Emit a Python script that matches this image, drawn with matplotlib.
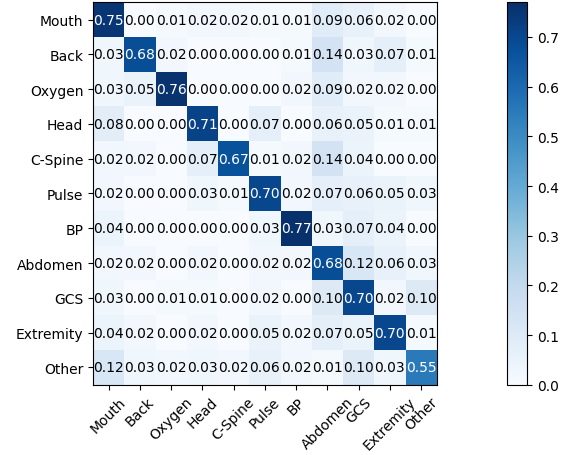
import numpy as np
import matplotlib
matplotlib.use("Agg")
import matplotlib.pyplot as plt

CLASSES = ["Mouth", "Back", "Oxygen", "Head", "C-Spine", "Pulse", "BP",
           "Abdomen", "GCS", "Extremity", "Other"]

# normalized confusion matrix, rows = true class, cols = predicted class
ROW_MOUTH = [0.75, 0.00, 0.01, 0.02, 0.02, 0.01, 0.01, 0.09, 0.06, 0.02, 0.00]
ROW_BACK = [0.03, 0.68, 0.02, 0.00, 0.00, 0.00, 0.01, 0.14, 0.03, 0.07, 0.01]
ROW_OXYGEN = [0.03, 0.05, 0.76, 0.00, 0.00, 0.00, 0.02, 0.09, 0.02, 0.02, 0.00]
ROW_HEAD = [0.08, 0.00, 0.00, 0.71, 0.00, 0.07, 0.00, 0.06, 0.05, 0.01, 0.01]
ROW_CSPINE = [0.02, 0.02, 0.00, 0.07, 0.67, 0.01, 0.02, 0.14, 0.04, 0.00, 0.00]
ROW_PULSE = [0.02, 0.00, 0.00, 0.03, 0.01, 0.70, 0.02, 0.07, 0.06, 0.05, 0.03]
ROW_BP = [0.04, 0.00, 0.00, 0.00, 0.00, 0.03, 0.77, 0.03, 0.07, 0.04, 0.00]
ROW_ABDOMEN = [0.02, 0.02, 0.00, 0.02, 0.00, 0.02, 0.02, 0.68, 0.12, 0.06, 0.03]
ROW_GCS = [0.03, 0.00, 0.01, 0.01, 0.00, 0.02, 0.00, 0.10, 0.70, 0.02, 0.10]
ROW_EXTREMITY = [0.04, 0.02, 0.00, 0.02, 0.00, 0.05, 0.02, 0.07, 0.05, 0.70, 0.01]
ROW_OTHER = [0.12, 0.03, 0.02, 0.03, 0.02, 0.06, 0.02, 0.01, 0.10, 0.03, 0.55]

cm = np.array([ROW_MOUTH, ROW_BACK, ROW_OXYGEN, ROW_HEAD, ROW_CSPINE, ROW_PULSE,
               ROW_BP, ROW_ABDOMEN, ROW_GCS, ROW_EXTREMITY, ROW_OTHER])

fig = plt.figure(figsize=(5.74, 4.56), dpi=100)
ax = fig.add_axes([0.162, 0.154, 0.599, 0.839])
cax = fig.add_axes([0.883, 0.154, 0.035, 0.839])

im = ax.imshow(cm, interpolation="nearest", cmap=plt.cm.Blues, aspect="auto")
cb = fig.colorbar(im, cax=cax)
cb.ax.tick_params(labelsize=10)

ticks = np.arange(len(CLASSES))
ax.set_xticks(ticks)
ax.set_xticklabels(CLASSES, rotation=45, fontsize=10)
ax.set_yticks(ticks)
ax.set_yticklabels(CLASSES, fontsize=10)

thresh = cm.max() / 2.0
for i in range(cm.shape[0]):
    for j in range(cm.shape[1]):
        ax.text(j, i, f"{cm[i, j]:.2f}", ha="center", va="center", fontsize=10,
                color="white" if cm[i, j] > thresh else "black")

fig.savefig("out.png", dpi=100)
